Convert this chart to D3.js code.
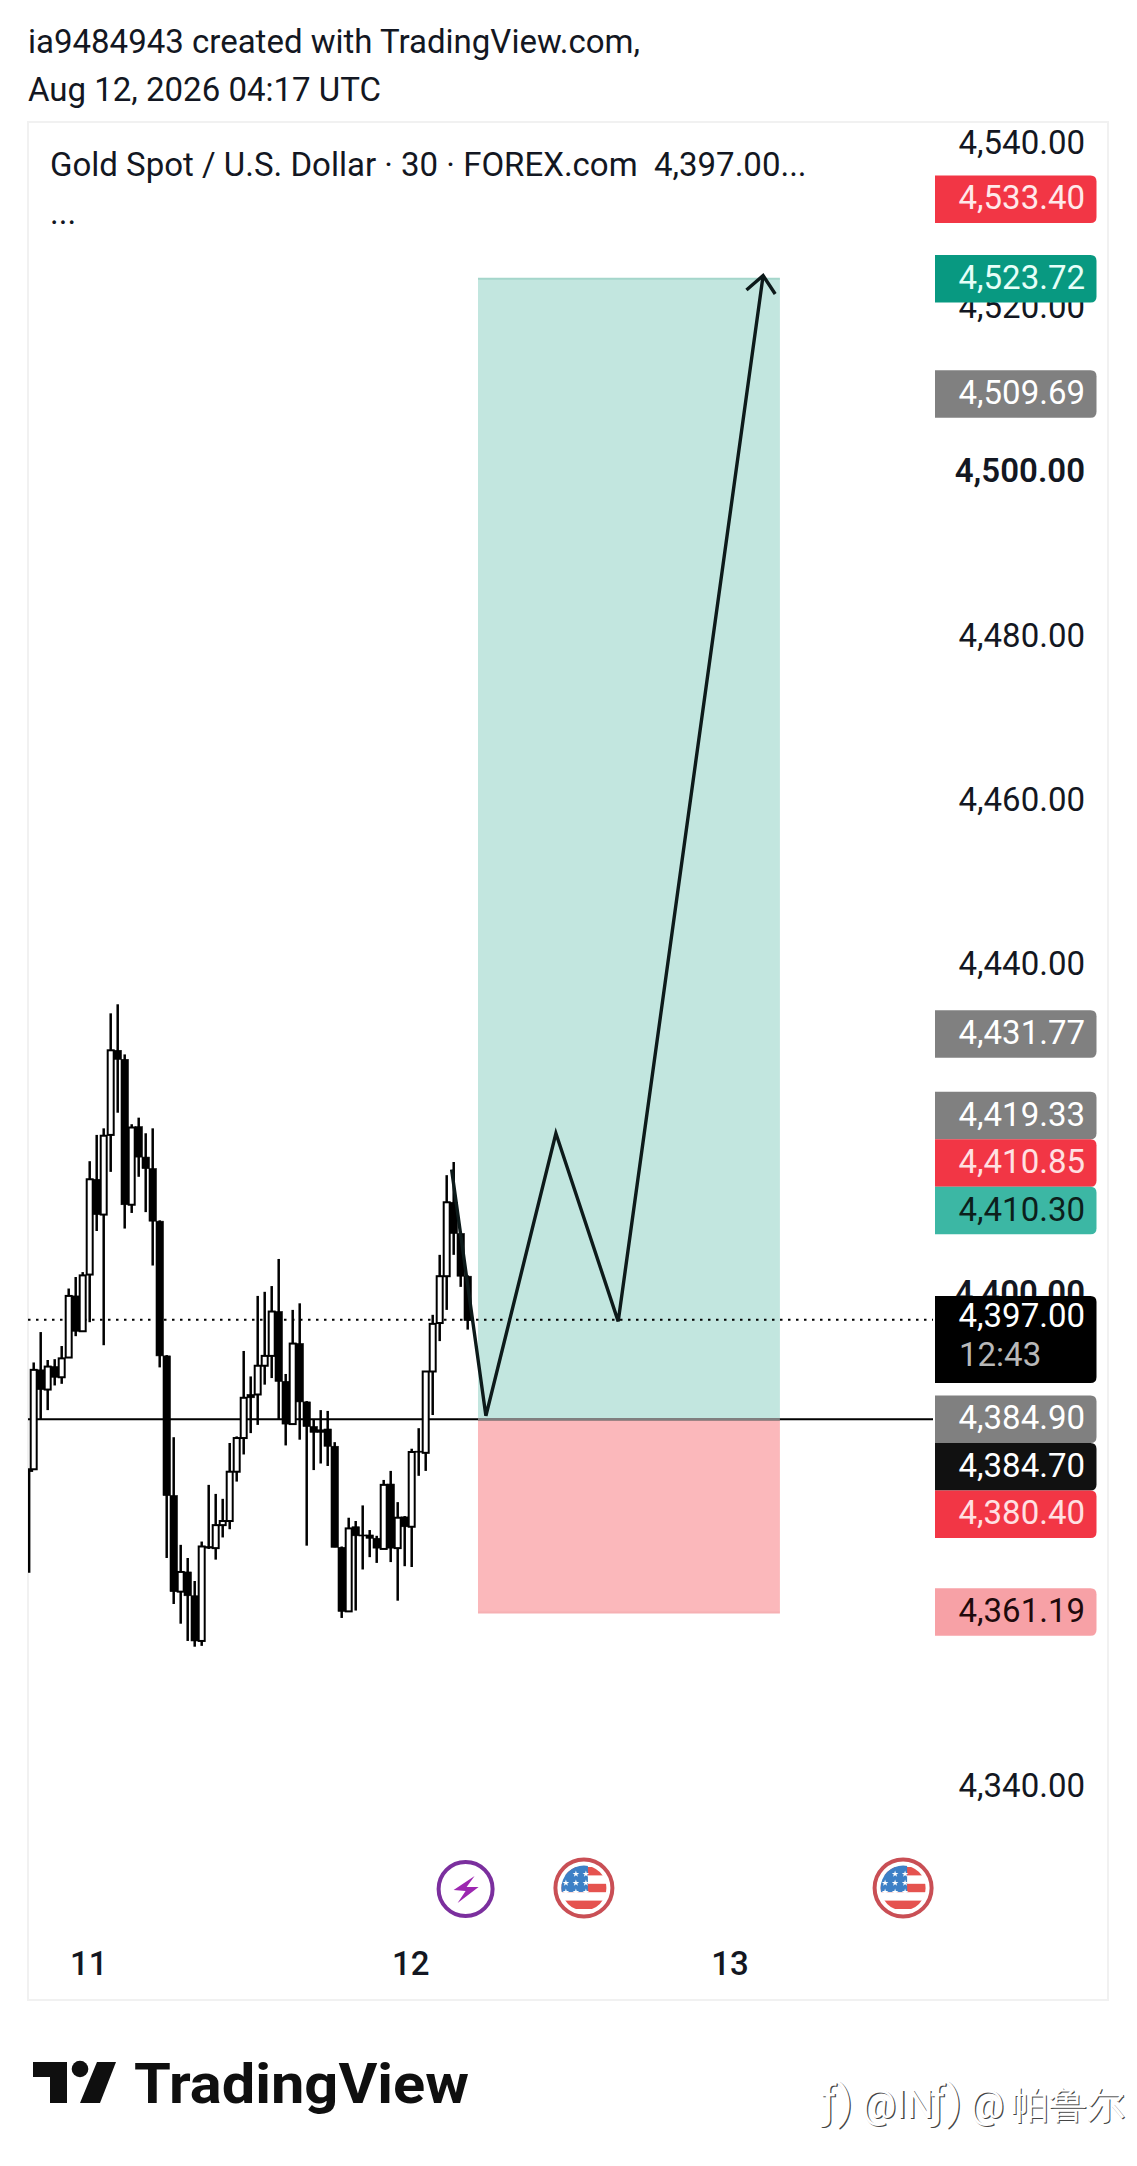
<!DOCTYPE html>
<html>
<head>
<meta charset="utf-8">
<script src="https://cdn.jsdelivr.net/npm/d3@7/dist/d3.min.js"></script>
<style>
html,body{margin:0;padding:0;background:#fff}
svg{display:block}
text{font-family:Roboto,sans-serif}
</style>
</head>
<body>
<div id="chart"></div>
<script>
// Candles, one [open, high, low, close] per 30-minute bar, from the clipped first bar onward
const candles = [
[4378.6,4378.8,4366.2,4378.8],[4378.8,4391.8,4378.8,4390.9],[4390.9,4395.5,4384.9,4388.5],[4388.5,4392.1,4386.0,4391.3],
[4391.3,4392.2,4389.0,4390.0],[4390.0,4393.8,4389.2,4392.3],[4392.4,4400.8,4392.4,4399.9],[4399.9,4402.2,4395.0,4395.6],
[4395.6,4402.8,4395.6,4402.4],[4402.5,4416.3,4396.7,4414.1],[4414.1,4419.5,4407.8,4409.8],[4409.8,4420.3,4393.9,4419.4],
[4419.5,4434.3,4415.0,4429.8],[4429.8,4435.4,4422.2,4428.7],[4428.7,4429.3,4408.1,4411.0],[4411.0,4420.8,4410.0,4420.4],
[4420.5,4421.6,4414.4,4416.8],[4416.8,4419.7,4410.1,4415.4],[4415.4,4420.3,4403.6,4409.0],[4409.0,4409.1,4391.2,4392.6],
[4392.6,4392.7,4368.0,4375.6],[4375.6,4382.7,4362.4,4363.9],[4363.9,4369.6,4360.0,4366.3],[4366.3,4368.0,4357.9,4363.4],
[4363.4,4365.2,4357.2,4357.9],[4357.9,4370.0,4357.3,4369.4],[4369.4,4376.9,4369.1,4369.2],[4369.2,4375.8,4367.8,4372.0],
[4372.0,4375.2,4370.5,4372.5],[4372.5,4382.0,4371.5,4378.5],[4378.5,4382.8,4377.3,4382.6],[4382.6,4393.2,4380.6,4387.5],
[4387.9,4390.1,4383.2,4387.5],[4387.9,4399.9,4384.2,4391.4],[4391.4,4400.4,4389.1,4392.6],[4392.6,4401.1,4389.9,4398.0],
[4398.0,4404.4,4384.9,4389.5],[4389.5,4390.4,4381.7,4384.3],[4384.3,4398.2,4384.3,4394.1],[4394.1,4399.0,4382.4,4387.0],
[4387.0,4387.1,4369.5,4384.0],[4384.0,4384.9,4378.7,4383.3],[4383.6,4386.0,4379.5,4383.3],[4383.7,4385.9,4379.2,4381.6],
[4381.6,4382.1,4369.3,4369.3],[4369.3,4369.4,4360.7,4361.5],[4361.5,4372.9,4361.5,4371.6],[4371.8,4372.5,4361.6,4370.7],
[4370.8,4374.4,4366.6,4370.7],[4370.8,4371.4,4368.1,4370.4],[4370.4,4370.7,4367.4,4369.2],[4369.1,4377.5,4369.1,4376.9],
[4377.0,4378.6,4367.5,4369.2],[4369.2,4374.8,4362.8,4372.9],[4373.0,4373.1,4367.0,4371.8],[4371.8,4381.3,4366.9,4380.9],
[4381.0,4383.8,4378.0,4380.9],[4380.8,4390.7,4378.6,4390.7],[4390.7,4397.6,4385.4,4396.5],[4396.6,4404.9,4394.4,4402.3],
[4402.3,4414.6,4398.2,4411.3],[4411.3,4416.2,4404.9,4407.5],[4407.5,4407.6,4401.0,4402.3],[4402.3,4402.4,4395.8,4396.9]
];
const clippedBar = -0.65;

// Only the ticks the reference leaves visible; 4360, 4380 and 4420 sit wholly behind price tags
const priceTicks = [4340,4400,4440,4460,4480,4500,4520,4540];
const boldTicks = [4400,4500];
const dayTicks = [7.8,53.8,99.4];
const dayLabels = ["11","12","13"];

const lastPrice = 4397.00;
const entryPrice = 4384.90;
const targetPrice = 4523.72;
const stopPrice = 4361.19;
const positionBars = [63.47,106.6];

// Hand-drawn path: bar index and price of each vertex
const sketchBars = [59.7,64.6,74.6,83.5,104.2];
const sketchPrices = [4415.3,4385.3,4419.7,4396.8,4524.1];

// Price tags on the right scale
const tagPrices = [4533.40,4523.72,4509.69,4431.77,4419.33,4410.85,4410.30,4397.00,4384.90,4384.70,4380.40,4361.19];
const tagFills  = ["#f23645","#089981","#808080","#808080","#808080","#f23645","#3cb7a4","#000000","#808080","#111111","#f23645","#f7a1a6"];
const tagInks   = ["#ffe9ea","#e6fff8","#ffffff","#ffffff","#ffffff","#ffe0e2","#0c1f1c","#ffffff","#ffffff","#ffffff","#ffe0e2","#1f0a0c"];
const stackUp   = [4410.30,4410.85,4419.33];
const stackDown = [4384.90,4384.70,4380.40];
const countdown = "12:43";

const headerLines = ["ia9484943 created with TradingView.com,","Aug 12, 2026 04:17 UTC"];
const titleLine = "Gold Spot / U.S. Dollar · 30 · FOREX.com\u00a0\u00a04,397.00...";
const flagStripes = [0,2,4];
const eventBars = [61.7,78.6,124.2];

const W = 1137, H = 2166;
const frame = {l:28,t:122,r:1108,b:2000};
const x = d3.scaleLinear().domain([0,62]).range([33.7,467.7]);
const y = d3.scaleLinear().domain([4340,4540]).range([1788,145]);
const FS = 33;

const svg = d3.select("#chart").append("svg").attr("width",W).attr("height",H);
svg.append("rect").attr("width",W).attr("height",H).attr("fill","#fff");

// Header
svg.selectAll("text.hdr").data(headerLines).join("text").attr("class","hdr")
  .attr("x",28).attr("y",(d,i)=>53+i*48).attr("font-size",FS).attr("fill","#131722").text(d=>d);

// Frame
svg.append("rect").attr("x",frame.l).attr("y",frame.t).attr("width",frame.r-frame.l).attr("height",frame.b-frame.t)
  .attr("fill","#fff").attr("stroke","#f1f1f1").attr("stroke-width",2);

svg.append("text").attr("x",50).attr("y",176).attr("font-size",FS).attr("fill","#131722").text(titleLine);
svg.append("text").attr("x",50).attr("y",224).attr("font-size",FS).attr("fill","#131722").text("...");

// Clip
svg.append("defs").append("clipPath").attr("id","plot").append("rect")
  .attr("x",frame.l).attr("y",frame.t).attr("width",905).attr("height",frame.b-frame.t);
const plot = svg.append("g").attr("clip-path","url(#plot)");

// Long position
const px0 = x(positionBars[0]), px1 = x(positionBars[1]);
const stopEdge = y(stopPrice)-1.5;
plot.append("rect").attr("x",px0).attr("width",px1-px0).attr("y",y(targetPrice)).attr("height",y(entryPrice)-y(targetPrice)).attr("fill","#c2e6df");
plot.append("rect").attr("x",px0).attr("width",px1-px0).attr("y",y(entryPrice)).attr("height",stopEdge-y(entryPrice)).attr("fill","#fbb8bb");
plot.append("line").attr("x1",px0).attr("x2",px1).attr("y1",y(targetPrice)).attr("y2",y(targetPrice)).attr("stroke","#a5d6cb").attr("stroke-width",2);
plot.append("line").attr("x1",px0).attr("x2",px1).attr("y1",stopEdge).attr("y2",stopEdge).attr("stroke","#f6b0b3").attr("stroke-width",2);

// Price lines
plot.append("line").attr("x1",frame.l).attr("x2",933).attr("y1",y(lastPrice)).attr("y2",y(lastPrice))
  .attr("stroke","#000").attr("stroke-width",2).attr("stroke-dasharray","2.5 5.5");
plot.append("line").attr("x1",frame.l).attr("x2",933).attr("y1",y(entryPrice)).attr("y2",y(entryPrice))
  .attr("stroke","#000").attr("stroke-width",2);
plot.append("line").attr("x1",px0).attr("x2",px1).attr("y1",y(entryPrice)).attr("y2",y(entryPrice))
  .attr("stroke","#7f7f7f").attr("stroke-width",2.5);

// Candles
const bars = candles.map((c,i)=>({i:i===0?clippedBar:i-1,o:c[0],h:c[1],l:c[2],c:c[3]}));
plot.append("g").selectAll("line").data(bars).join("line")
  .attr("x1",d=>x(d.i)).attr("x2",d=>x(d.i)).attr("y1",d=>y(d.h)).attr("y2",d=>y(d.l))
  .attr("stroke","#000").attr("stroke-width",2.5);
plot.append("g").selectAll("rect").data(bars).join("rect")
  .attr("x",d=>x(d.i)-(d.c>=d.o?3:3.7)).attr("width",d=>d.c>=d.o?6:7.4)
  .attr("y",d=>y(Math.max(d.o,d.c))).attr("height",d=>Math.max(1,Math.abs(y(d.o)-y(d.c))))
  .attr("fill",d=>d.c>=d.o?"#fff":"#000").attr("stroke","#000").attr("stroke-width",d=>d.c>=d.o?2:0.6);

// Sketch path and arrow head
const sketch = d3.line().x(d=>x(d[0])).y(d=>y(d[1]));
const pts = sketchBars.map((b,i)=>[b,sketchPrices[i]]);
plot.append("path").attr("d",sketch(pts)).attr("fill","none").attr("stroke","#0d1a1a").attr("stroke-width",3.4);
const tip = [x(sketchBars[4]),y(sketchPrices[4])];
const prev = [x(sketchBars[3]),y(sketchPrices[3])];
const ang = Math.atan2(tip[1]-prev[1],tip[0]-prev[0]);
const headPts = [-0.72,0,0.72].map((a,i)=> i==1 ? tip : [tip[0]-22*Math.cos(ang+a),tip[1]-22*Math.sin(ang+a)]);
plot.append("path").attr("d",d3.line()(headPts)).attr("fill","none").attr("stroke","#0d1a1a").attr("stroke-width",3.4);

// Price axis
const yAxis = d3.axisRight(y).tickValues(priceTicks).tickFormat(d3.format(",.2f")).tickSize(0).tickPadding(0);
const gy = svg.append("g").attr("transform","translate(1085,-2.2)").call(yAxis);
gy.select(".domain").remove();
gy.selectAll("text").attr("text-anchor","end").attr("font-size",FS).attr("fill","#131722")
  .attr("font-family","Roboto,sans-serif").attr("font-weight",d=>boldTicks.includes(d)?600:400);

// Time axis
const xAxis = d3.axisBottom(x).tickValues(dayTicks).tickFormat((d,i)=>dayLabels[i]).tickSize(0).tickPadding(0);
const gx = svg.append("g").attr("transform","translate(0,1952)").call(xAxis);
gx.select(".domain").remove();
gx.selectAll("text").attr("font-size",FS).attr("fill","#131722").attr("font-weight",500).attr("font-family","Roboto,sans-serif");

// Price tags with collision stacking
const tagH = 47.5, tagL = 935, tagR = 1096.5;
const centres = new Map(tagPrices.map(p=>[p,y(p)]));
stackUp.forEach((p,i)=>{ if(i){ const below=centres.get(stackUp[i-1]); centres.set(p,Math.min(centres.get(p),below-tagH)); }});
stackDown.forEach((p,i)=>{ if(i){ const above=centres.get(stackDown[i-1]); centres.set(p,Math.max(centres.get(p),above+tagH)); }});
const tagPath = (top,h)=>{const r=6;return `M${tagL},${top}H${tagR-r}Q${tagR},${top} ${tagR},${top+r}V${top+h-r}Q${tagR},${top+h} ${tagR-r},${top+h}H${tagL}Z`;};
const tags = tagPrices.map((p,i)=>({p,fill:tagFills[i],ink:tagInks[i]}));
const gt = svg.append("g");
tags.forEach(t=>{
  const c = centres.get(t.p);
  const isLast = t.p===lastPrice;
  const top = c-tagH/2;
  gt.append("path").attr("d",tagPath(top-(t.p===stopPrice?2:0),isLast?87:tagH)).attr("fill",t.fill);
  gt.append("text").attr("x",1085).attr("y",c-1.5-(isLast?3:0)-(t.p===stopPrice?2:0)).attr("dy","0.35em").attr("text-anchor","end")
    .attr("font-size",FS).attr("fill",t.ink).text(d3.format(",.2f")(t.p));
  if(isLast) gt.append("text").attr("x",959).attr("y",c+35).attr("dy","0.35em").attr("font-size",FS).attr("fill","#b8b8b8").text(countdown);
});

// Event icons
const iconY = 1888;
const bolt = svg.append("g").attr("transform",`translate(${x(eventBars[0])},${iconY+1})`);
bolt.append("circle").attr("r",27).attr("fill","#fff").attr("stroke","#7b2f9e").attr("stroke-width",4);
bolt.append("path").attr("d","M9,-13 L-12,1 L0,2 L-8,14 L13,-2 L1,-2 Z").attr("fill","#9c27b0");

const defs = svg.select("defs");
defs.append("clipPath").attr("id","flagclip").append("circle").attr("r",22.5);
const star = d3.symbol().type(d3.symbolStar).size(14);
eventBars.slice(1).forEach(b=>{
  const g = svg.append("g").attr("transform",`translate(${x(b)},${iconY})`);
  g.append("circle").attr("r",28.5).attr("fill","#fff").attr("stroke","#c94f55").attr("stroke-width",4);
  const f = g.append("g").attr("clip-path","url(#flagclip)");
  flagStripes.forEach(s=>f.append("rect").attr("x",-24).attr("width",48).attr("y",-21+s*8.4).attr("height",8.4).attr("fill","#e5534f"));
  f.append("rect").attr("x",-24).attr("width",28).attr("y",-24).attr("height",28).attr("fill","#3d80c6");
  [[-4,-16],[6,-16],[-14,-7],[-4,-7],[6,-7],[-14,2],[-4,2],[6,2]].forEach(o=>{
    f.append("path").attr("d",star()).attr("transform",`translate(${o[0]-4},${o[1]+2})`).attr("fill","#fff");
  });
});

// Logo
const logo = svg.append("g").attr("fill","#0f0f0f");
logo.append("path").attr("d","M33,2062H67V2103H50V2077H33Z");
logo.append("circle").attr("cx",80).attr("cy",2069).attr("r",8.3);
logo.append("path").attr("d","M97,2062H116L100,2103H80Z");
logo.append("text").attr("x",134).attr("y",2103).attr("font-size",56).attr("font-weight",700)
  .attr("font-family","Inter,Roboto,sans-serif").attr("textLength",335).attr("lengthAdjust","spacingAndGlyphs").text("TradingView");

// Watermark (overlapping embossed text)
const marks = [
  {x:821,s:"ƒ)",fs:46},{x:862,s:"@IN",fs:38},
  {x:930,s:"ƒ)",fs:46},{x:970,s:"@",fs:38},{x:1011,s:"帕鲁尔",fs:38}
];
const cjk = "'Noto Sans CJK SC',sans-serif";
marks.forEach(m=>{
  svg.append("text").attr("x",m.x+1.3).attr("y",2118.5).attr("font-size",m.fs).attr("font-family",cjk)
    .attr("fill","#444").text(m.s);
});
marks.forEach(m=>{
  svg.append("text").attr("x",m.x).attr("y",2117.5).attr("font-size",m.fs).attr("font-family",cjk)
    .attr("fill","#fff").text(m.s);
});
</script>
</body>
</html>
